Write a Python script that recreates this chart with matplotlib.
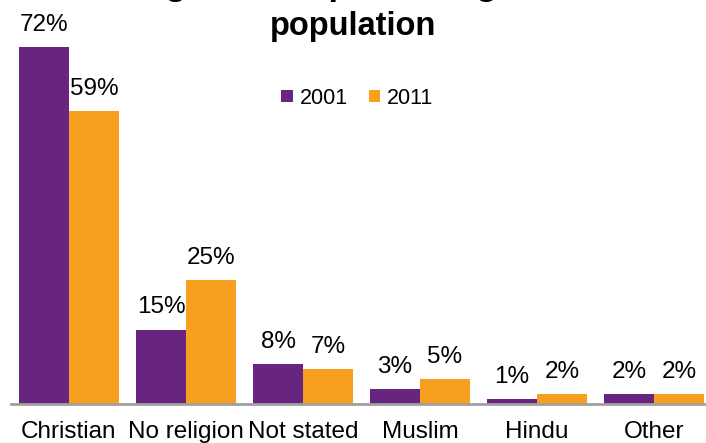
import matplotlib
matplotlib.use("Agg")
import matplotlib.pyplot as plt
import numpy as np

plt.rcParams['font.family'] = ['Liberation Sans', 'DejaVu Sans']

# data
categories = ['Christian', 'No religion', 'Not stated', 'Muslim', 'Hindu', 'Other']
pct_2001 = [72, 15, 8, 3, 1, 2]
pct_2011 = [59, 25, 7, 5, 2, 2]
years = ['2001', '2011']

purple = '#68257f'
orange = '#f79f1f'

fig = plt.figure(figsize=(7.06, 4.43), dpi=100)
W, H = 706, 443
# axes placed in pixel terms: baseline at y=404, ~4.96 px per percent
ax = fig.add_axes([10.5 / W, (H - 404) / H, 702 / W, 384 / H])

x = np.arange(len(categories))
bw = 50 / 117
b1 = ax.bar(x - bw / 2, pct_2001, bw, color=purple, label=years[0])
b2 = ax.bar(x + bw / 2, pct_2011, bw, color=orange, label=years[1])

for bars, vals in [(b1, pct_2001), (b2, pct_2011)]:
    for r, v in zip(bars, vals):
        ax.annotate(str(v) + '%', (r.get_x() + r.get_width() / 2, r.get_height()),
                    xytext=(0, 8), textcoords='offset points',
                    ha='center', va='bottom', fontsize=17.5)

ax.set_xlim(-0.5, len(categories) - 0.5)
ax.set_ylim(0, 384 / 4.96)
ax.set_xticks(x)
ax.set_xticklabels(categories, fontsize=17.5)
ax.tick_params(axis='x', length=0, pad=12)
ax.set_yticks([])
for s in ['top', 'right', 'left']:
    ax.spines[s].set_visible(False)
ax.spines['bottom'].set_color('#a0a0a0')
ax.spines['bottom'].set_linewidth(2)

ax.legend(loc='center', bbox_to_anchor=(357.5 / W, 1 - 98 / H), bbox_transform=fig.transFigure,
          ncol=2, frameon=False, fontsize=15.5, handlelength=0.52, handleheight=0.52,
          handletextpad=0.32, columnspacing=1.0)

# title: first line mostly runs off the top of the picture
fig.text(373 / W, 1 + 5 / H, 'Religion as a percentage of total',
         ha='center', va='baseline', fontsize=25.5, fontweight='bold')
fig.text(353 / W, 1 - 35 / H, 'population',
         ha='center', va='baseline', fontsize=23.5, fontweight='bold')

fig.savefig('out.png', dpi=100)
